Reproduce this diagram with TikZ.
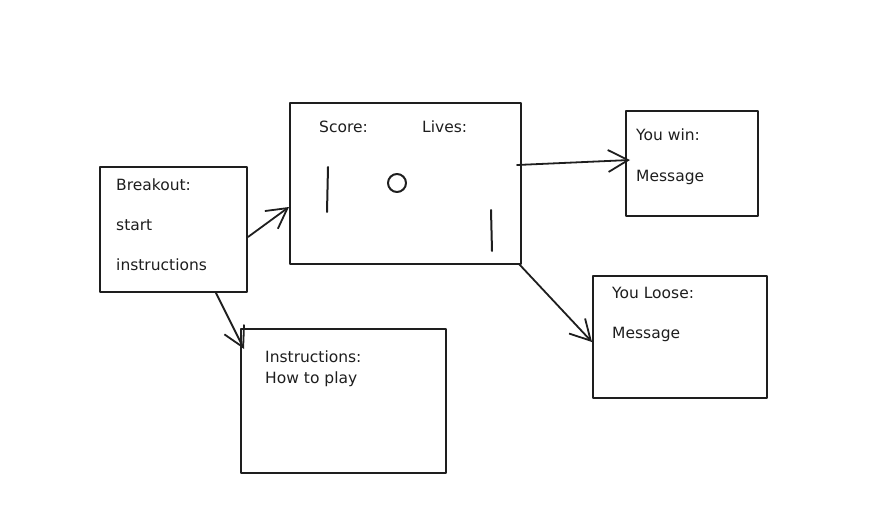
\documentclass[tikz,border=0pt]{standalone}
\usepackage{fontspec}
\setmainfont{DejaVu Sans}
\usetikzlibrary{arrows.meta}
\definecolor{pen}{HTML}{1E1E1E}
\begin{document}
\begin{tikzpicture}[x=1pt,y=-1pt,line join=round,line cap=round,
		box/.style={draw=pen,line width=2pt,inner sep=0pt},
		lbl/.style={anchor=base west,inner sep=0pt,text=pen,font=\fontsize{15.5}{18}\selectfont},
		arr/.style={draw=pen,line width=1.8pt,-{Straight Barb[length=20pt,width=22pt,line width=1.8pt]}}
	]
	\useasboundingbox (0,0) rectangle (876,511);
	\node[box,minimum width=147,minimum height=125] (breakout) at (173.5,229.5) {};
	\node[box,minimum width=231,minimum height=161] (game) at (405.5,183.5) {};
	\node[box,minimum width=132,minimum height=105] (win) at (692,163.5) {};
	\node[box,minimum width=174,minimum height=122] (loose) at (680,337) {};
	\node[box,minimum width=205,minimum height=144] (instr) at (343.5,401) {};
	\node[lbl] (bTitle) at (116,190) {Breakout:};
	\node[lbl] (bStart) at (116,230) {start};
	\node[lbl] (bInstr) at (116,270) {instructions};
	\node[lbl] (gScore) at (319,132) {Score:};
	\node[lbl] (gLives) at (422,132) {Lives:};
	\node[lbl] (wTitle) at (636,140) {You win:};
	\node[lbl] (wMsg) at (636,181) {Message};
	\node[lbl] (lTitle) at (612,298) {You Loose:};
	\node[lbl] (lMsg) at (612,338) {Message};
	\node[lbl] (iTitle) at (265,362) {Instructions:};
	\node[lbl] (iHow) at (265,383) {How to play};
	\draw[pen,line width=2pt] (328,167)--(327,212)
		(491,210)--(492,251)
		(397,183) circle (9);
	\draw[arr] ([yshift=-7.5pt]breakout.east) -- ([yshift=-23.5pt]game.west);
	\draw[arr] ([shift={(-5pt,18.5pt)}]game.east) -- ([shift={(5pt,3.5pt)}]win.west);
	\draw[arr] ([shift={(-3pt,1pt)}]game.south east) -- ([yshift=-5pt]loose.west);
	\draw[arr] ([xshift=42.5pt]breakout.south) -- ([shift={(4pt,-21pt)}]instr.north west);
\end{tikzpicture}
\end{document}
